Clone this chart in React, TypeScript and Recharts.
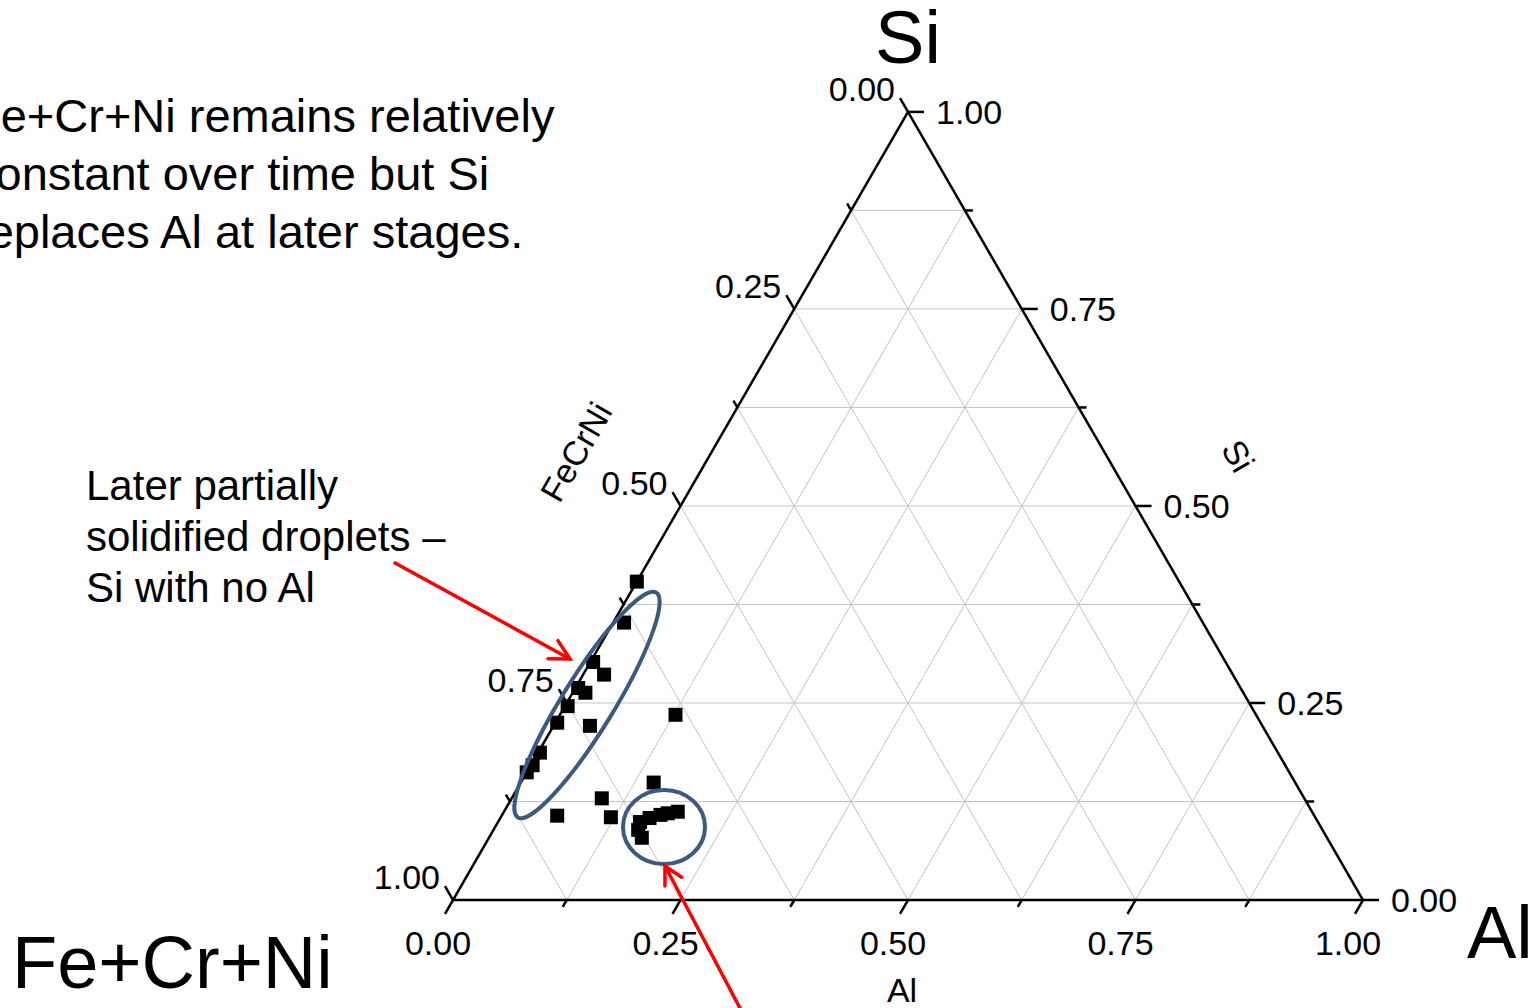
import React from 'react';
import { ScatterChart, Scatter, XAxis, YAxis, ReferenceLine } from 'recharts';

// measured droplet compositions (FeCrNi = 1 - Al - Si)
const alValues = [
  0.0, 0.012, 0.003, 0.023, 0.003, 0.014, 0.003, 0.002, 0.04, 0.127, 0.002, 0.002, 0.0,
  0.099, 0.061, 0.121, 0.146, 0.191, 0.181, 0.174, 0.164, 0.156, 0.159, 0.168,
];
const siValues = [
  0.404, 0.352, 0.302, 0.286, 0.269, 0.263, 0.246, 0.225, 0.221, 0.235, 0.187, 0.171, 0.162,
  0.129, 0.107, 0.105, 0.149, 0.112, 0.11, 0.108, 0.104, 0.099, 0.089, 0.079,
];

const axisTicks = [0, 0.25, 0.5, 0.75, 1];
const tickLabels = ['0.00', '0.25', '0.50', '0.75', '1.00'];
const minorTicks = [0.125, 0.375, 0.625, 0.875];
const gridLevels = [0.125, 0.25, 0.375, 0.5, 0.625, 0.75, 0.875];

const W = 1539;
const H = 1008;
const PX = 910; // pixels per triangle side
const OX = 453;
const OY = 900;
const SQ = Math.sqrt(3) / 2;
const FONT = '"Liberation Sans", Arial, Helvetica, sans-serif';

// ternary -> cartesian (side = 1)
const tern = (al: number, si: number) => ({ x: al + si / 2, y: si * SQ });
const move = (p: { x: number; y: number }, dx: number, dy: number, len: number) => ({
  x: p.x + dx * len,
  y: p.y + dy * len,
});

const MAJOR = 16 / PX;
const MINOR = 8 / PX;

// tick directions (outward)
const bottomTick = (a: number, len: number) => [tern(a, 0), move(tern(a, 0), -0.5, -SQ, len)];
const rightTick = (s: number, len: number) => [tern(1 - s, s), move(tern(1 - s, s), 1, 0, len)];
const leftTick = (f: number, len: number) => [tern(0, 1 - f), move(tern(0, 1 - f), -0.5, SQ, len)];

const points = alValues.map((al, i) => ({ ...tern(al, siValues[i]), al, si: siValues[i] }));

const gridSegments = gridLevels.flatMap((s) => [
  [tern(0, s), tern(1 - s, s)],
  [tern(s, 0), tern(s, 1 - s)],
  [tern(1 - s, 0), tern(0, 1 - s)],
]);

const edges = [
  [tern(0, 0), tern(1, 0)],
  [tern(1, 0), tern(0, 1)],
  [tern(0, 1), tern(0, 0)],
];

const tickSegments = [
  ...axisTicks.flatMap((v) => [bottomTick(v, MAJOR), rightTick(v, MAJOR), leftTick(v, MAJOR)]),
  ...minorTicks.flatMap((v) => [bottomTick(v, MINOR), rightTick(v, MINOR), leftTick(v, MINOR)]),
];

const bottomLabels = axisTicks.map((v, i) => ({ ...bottomTick(v, MAJOR)[1], label: tickLabels[i] }));
const rightLabels = axisTicks.map((v, i) => ({ ...rightTick(v, MAJOR)[1], label: tickLabels[i] }));
const leftLabels = axisTicks.map((v, i) => ({ ...leftTick(v, MAJOR)[1], label: tickLabels[i] }));

const labelShape = (dx: number, dy: number, anchor: 'start' | 'middle' | 'end') => (p: any) => (
  <text x={p.cx + dx} y={p.cy + dy} textAnchor={anchor} fontSize={34} fontFamily={FONT} fill="#000">
    {p.payload.label}
  </text>
);

const square = (p: any) => <rect x={p.cx - 7} y={p.cy - 7} width={14} height={14} fill="#000" />;

function Arrow({ x1, y1, x2, y2, head }: { x1: number; y1: number; x2: number; y2: number; head: number }) {
  const len = Math.hypot(x2 - x1, y2 - y1);
  const ux = (x1 - x2) / len;
  const uy = (y1 - y2) / len;
  const a = (28 * Math.PI) / 180;
  const h1 = { x: x2 + head * (ux * Math.cos(a) - uy * Math.sin(a)), y: y2 + head * (ux * Math.sin(a) + uy * Math.cos(a)) };
  const h2 = { x: x2 + head * (ux * Math.cos(a) + uy * Math.sin(a)), y: y2 + head * (-ux * Math.sin(a) + uy * Math.cos(a)) };
  return (
    <g stroke="#ff0000" strokeWidth={3.5} fill="none" strokeLinecap="round">
      <line x1={x1} y1={y1} x2={x2} y2={y2} />
      <polyline points={`${h1.x},${h1.y} ${x2},${y2} ${h2.x},${h2.y}`} />
    </g>
  );
}

export default function App() {
  return (
    <div style={{ position: 'absolute', left: 0, top: 0, width: W, height: H, background: '#fff', overflow: 'hidden' }}>
      <ScatterChart width={W} height={H} margin={{ top: 0, right: 0, bottom: 0, left: 0 }}>
        <XAxis type="number" dataKey="x" hide domain={[-OX / PX, (W - OX) / PX]} allowDataOverflow />
        <YAxis type="number" dataKey="y" hide domain={[(OY - H) / PX, OY / PX]} allowDataOverflow />
        {gridSegments.map((seg, i) => (
          <ReferenceLine key={`g${i}`} segment={seg} stroke="#c4c4c4" strokeWidth={1} />
        ))}
        {edges.map((seg, i) => (
          <ReferenceLine key={`e${i}`} segment={seg} stroke="#000" strokeWidth={2.5} />
        ))}
        {tickSegments.map((seg, i) => (
          <ReferenceLine key={`t${i}`} segment={seg} stroke="#000" strokeWidth={2.5} />
        ))}
        <Scatter data={bottomLabels} shape={labelShape(-7, 41, 'middle')} isAnimationActive={false} />
        <Scatter data={rightLabels} shape={labelShape(12, 12, 'start')} isAnimationActive={false} />
        <Scatter data={leftLabels} shape={labelShape(-5, 3, 'end')} isAnimationActive={false} />
        <Scatter data={points} shape={square} isAnimationActive={false} />
      </ScatterChart>

      <svg width={W} height={H} style={{ position: 'absolute', left: 0, top: 0, pointerEvents: 'none' }} fontFamily={FONT}>
        {/* corner labels */}
        <text x={908} y={63} fontSize={74} textAnchor="middle">Si</text>
        <text x={12} y={988} fontSize={74}>Fe+Cr+Ni</text>
        <text x={1467} y={958} fontSize={74}>Al</text>

        {/* axis titles */}
        <text x={902} y={1002} fontSize={34} textAnchor="middle">Al</text>
        <text transform="translate(1238,456) rotate(60)" fontSize={34} textAnchor="middle" dy="0.35em">Si</text>
        <text transform="translate(576,452) rotate(-60)" fontSize={34} textAnchor="middle" dy="0.35em">FeCrNi</text>

        {/* notes */}
        <g fontSize={47}>
          <text x={-28} y={132}>Fe+Cr+Ni remains relatively</text>
          <text x={-28} y={190}>constant over time but Si</text>
          <text x={-28} y={248}>replaces Al at later stages.</text>
        </g>
        <g fontSize={42}>
          <text x={86} y={500}>Later partially</text>
          <text x={86} y={551}>solidified droplets –</text>
          <text x={86} y={602}>Si with no Al</text>
        </g>

        <ellipse cx={587} cy={705} rx={132} ry={26} transform="rotate(-58.4 587 705)" fill="none" stroke="#3c5a7f" strokeWidth={4} />
        <ellipse cx={664} cy={827} rx={41} ry={37} fill="none" stroke="#3c5a7f" strokeWidth={4} />

        <Arrow x1={395} y1={563} x2={570} y2={659} head={22} />
        <Arrow x1={742} y1={1012} x2={665} y2={866} head={20} />
      </svg>
    </div>
  );
}
